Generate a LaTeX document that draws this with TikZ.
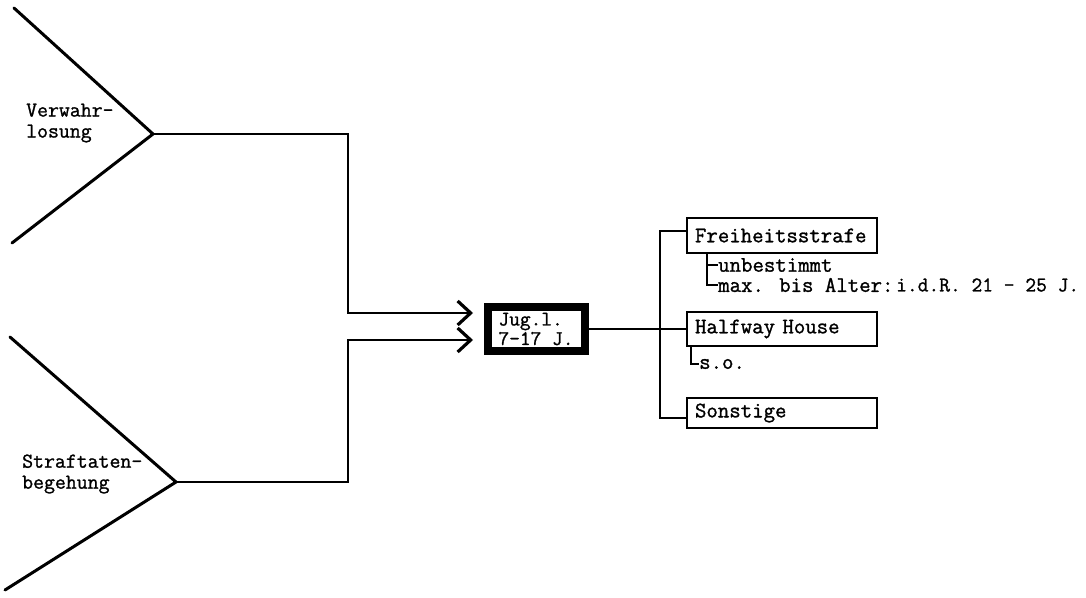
\documentclass[tikz,border=0pt]{standalone}
\usepackage{fontspec}
\newfontfamily\tw{Latin Modern Mono}[FakeBold=1.2]
\usetikzlibrary{arrows.meta}
\begin{document}
\begin{tikzpicture}[x=1pt,y=-1pt,
  txt/.style={font=\tw\fontsize{22.2}{21}\selectfont, inner sep=0pt, anchor=west},
  lbl/.style={font=\tw\fontsize{21.2}{21}\selectfont, inner sep=0pt, anchor=west, align=left},
  vline/.style={line width=3pt, line cap=round},
  conn/.style={line width=2.5pt},
  sub/.style={line width=2.5pt},
  arr/.style={conn, -{Straight Barb[length=13pt,width=24pt,line width=3.2pt]}},
  box/.style={draw, line width=2.5pt, minimum width=190pt, inner xsep=8pt, inner ysep=0pt,
    text width=174pt, align=left, font=\tw\fontsize{22.2}{21}\selectfont},
  jugbox/.style={draw, line width=8pt, minimum width=97pt, minimum height=44pt,
    inner xsep=4pt, inner ysep=0pt, align=left,
    font=\tw\fontsize{20.8}{19.5}\selectfont}]
\path[use as bounding box] (0,0) rectangle (1086,597);

% V shapes
\coordinate (vt) at (14,8);
\coordinate (va) at (153,134);
\coordinate (vb) at (12,243);
\coordinate (st) at (10,337);
\coordinate (sa) at (176,482);
\coordinate (sb) at (5,590);
\draw[vline] (vt) -- (va) -- (vb);
\draw[vline] (st) -- (sa) -- (sb);

\node[lbl] (verw) at (26,123) {Verwahr-\\losung};
\node[lbl] (straf) at (22,474) {Straftaten-\\begehung};

% central box
\node[jugbox] (jug) at (536,329) {Jug.l.\\7-17 J.};

% connectors to central box
\coordinate (c1) at (348,134);
\coordinate (c2) at (348,482);
\coordinate (t1) at (473,313);
\coordinate (t2) at (473,340);
\draw[arr] (va) -- (c1) |- (t1);
\draw[arr] (sa) -- (c2) |- (t2);

% right boxes
\node[box, minimum height=35pt] (fr) at (782,235.5) {Freiheitsstrafe};
\node[box, minimum height=34pt] (hw) at (782,329) {Halfway House};
\node[box, minimum height=30pt] (sonst) at (782,413) {Sonstige};

\draw[conn] (jug.east) -- (hw.west);
\coordinate (b1) at (660,231);
\coordinate (b2) at (660,418);
\draw[conn] (fr.west |- b1) -| (b2) -- (sonst.west |- b2);

% sub items
\node[txt] (unb) at (718,265) {unbestimmt};
\node[txt] (max) at (718,285) {max. bis Alter:};
\node[txt, font=\tw\fontsize{20.9}{21}\selectfont] (idr) at (896,285) {i.d.R. 21 - 25 J.};
\coordinate (brA) at (707,253);
\draw[sub] (brA) |- (max.west);
\draw[sub] (brA |- unb.west) -- (unb.west);

\node[txt] (sotxt) at (699,364) {s.o.};
\coordinate (brB) at (691,346);
\draw[sub] (brB) |- (sotxt.west);
\end{tikzpicture}
\end{document}
